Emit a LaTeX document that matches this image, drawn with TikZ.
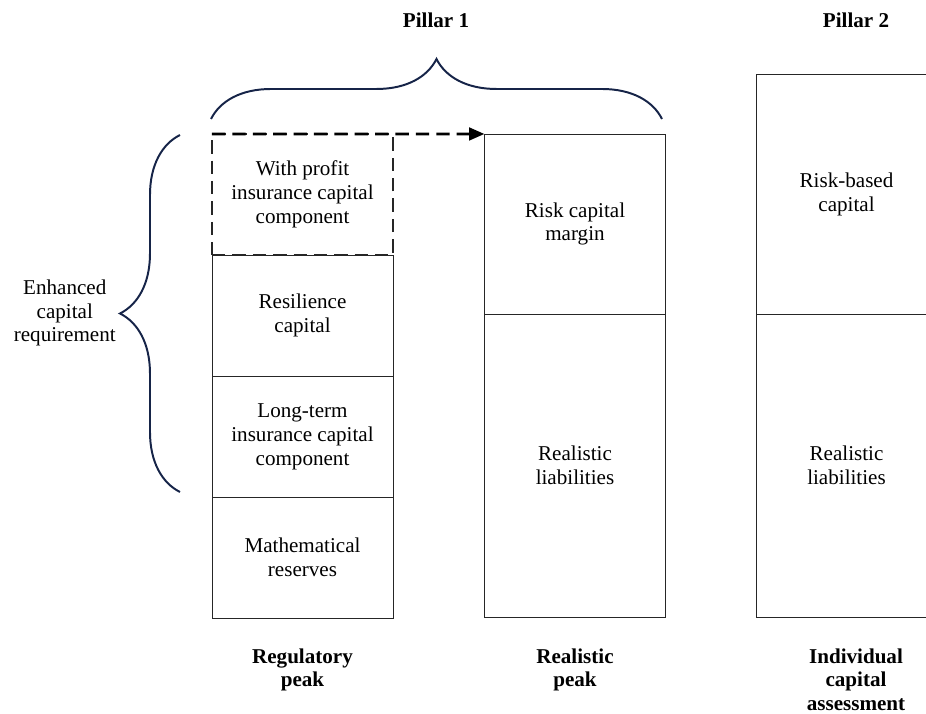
\documentclass[tikz,border=0pt]{standalone}
\usepackage{fontspec}
\setmainfont{Liberation Serif}
\usetikzlibrary{positioning,decorations.pathreplacing,arrows.meta}
\definecolor{braceNavy}{RGB}{22,36,72}

\tikzstyle{capBox} = [rectangle, minimum width=4.525cm, minimum height=3.025cm, text centered, align=center, draw=black!85, line width=0.6pt, inner sep=0pt, outer sep=0pt]
\tikzstyle{capBoxDash} = [capBox, line width=2pt, dash pattern=on 9.5pt off 5pt]
\tikzstyle{headLabel} = [font=\fontsize{15}{17}\selectfont\bfseries, align=center, inner sep=0pt]
\tikzstyle{curly} = [decorate, decoration={brace, amplitude=1.5cm}, draw=braceNavy, line width=1.4pt]
\tikzstyle{arrow} = [line width=2pt, dash pattern=on 9.5pt off 5pt, -{Triangle[length=11pt,width=9pt]}]

\begin{document}
\begin{tikzpicture}[x=0.025cm, y=-0.025cm, node distance=3.025cm, font=\fontsize{15}{17}\selectfont]
  \useasboundingbox (0,0) rectangle (926,714);
  \clip (0,0) rectangle (926,714);

  % regulatory peak
  \node (wp)[capBoxDash] at (302.5,194.5) {With profit\\insurance capital\\component};
  \node (rc)[capBox, below of=wp] {Resilience\\capital};
  \node (lt)[capBox, below of=rc] {Long-term\\insurance capital\\component};
  \node (mr)[capBox, below of=lt] {Mathematical\\reserves};

  % realistic peak
  \node (rcm)[capBox, minimum height=4.5cm] at (575,224) {Risk capital\\margin};
  \node (rl)[capBox, minimum height=7.575cm, below=0pt of rcm] {Realistic\\liabilities};

  % individual capital assessment
  \node (rbc)[capBox, minimum height=6cm] at (846.5,194) {Risk-based\\capital};
  \node (rl2)[capBox, minimum height=7.575cm, below=0pt of rbc] {Realistic\\liabilities};

  \draw [arrow] (wp.north west) -- (rcm.north west);

  % braces
  \coordinate (tbL) at (211,119);
  \coordinate (tbR) at (662,119);
  \coordinate (lbB) at (180,492);
  \coordinate (lbT) at (180,135);
  \draw [curly] (tbL) -- (tbR);
  \draw [curly] (lbB) -- (lbT);

  \node (ecr)[align=center, anchor=east, inner sep=0pt] at (116,313) {Enhanced\\capital\\requirement};

  \node (p1)[headLabel] at (436,20) {Pillar 1};
  \node (p2)[headLabel] at (856,20) {Pillar 2};

  \node (regPeak)[headLabel, below=0.75cm of mr] {Regulatory\\peak};
  \node (relPeak)[headLabel, anchor=north] at (rl.south |- regPeak.north) {Realistic\\peak};
  \coordinate (icaX) at (856,0);
  \node (ica)[headLabel, anchor=north] at (icaX |- regPeak.north) {Individual\\capital\\assessment};
\end{tikzpicture}
\end{document}
